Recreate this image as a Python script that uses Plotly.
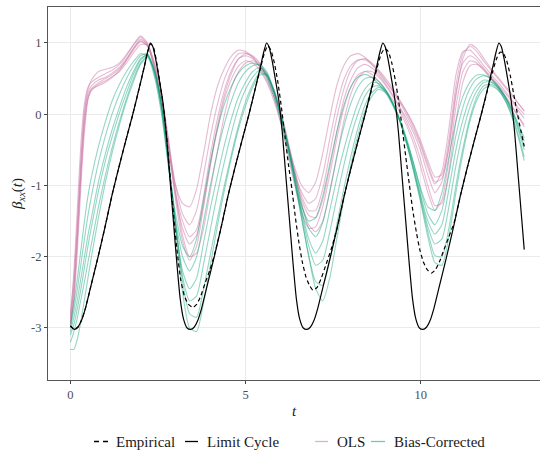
import plotly.graph_objects as go

# ---------------- data ----------------
TIME = [0, 0.1, 0.2, 0.3, 0.4, 0.5, 0.6,
        0.8, 1.0, 1.2, 1.4, 1.6, 1.8, 2.0, 2.2, 2.4, 2.6,
        2.8, 3.0, 3.2, 3.4, 3.6, 3.8, 4.0, 4.2, 4.4, 4.6,
        4.8, 5.0, 5.2, 5.4, 5.6, 5.8, 6.0, 6.2, 6.4, 6.6,
        6.8, 7.0, 7.2, 7.4, 7.6, 7.8, 8.0, 8.2, 8.4, 8.6,
        8.8, 9.0, 9.2, 9.4, 9.6, 9.8, 10.0, 10.2, 10.4, 10.6,
        10.8, 11.0, 11.2, 11.4, 11.6, 11.8, 12.0, 12.2, 12.4, 12.6,
        12.8, 12.95]

OLS_1 = [-2.9, -2.4, -1.6, -0.7, 0.0, 0.3, 0.4,
         0.48, 0.52, 0.58, 0.66, 0.78, 0.92, 1.03, 0.95, 0.65, 0.2,
         -0.45, -1.1, -1.5, -1.72, -1.62, -1.15, -0.55, -0.05, 0.35, 0.62,
         0.78, 0.82, 0.78, 0.68, 0.52, 0.28, -0.05, -0.45, -0.85, -1.2,
         -1.42, -1.45, -1.2, -0.75, -0.25, 0.2, 0.48, 0.65, 0.7, 0.65,
         0.55, 0.42, 0.27, 0.1, -0.07, -0.27, -0.52, -0.85, -1.1, -0.95,
         -0.45, 0.3, 0.72, 0.82, 0.76, 0.64, 0.53, 0.42, 0.3, 0.18,
         0.04, -0.06]
OLS_2 = [-2.85, -2.2, -1.3, -0.4, 0.15, 0.38, 0.45,
         0.52, 0.57, 0.62, 0.7, 0.82, 0.97, 1.08, 0.98, 0.62, 0.12,
         -0.5, -1.0, -1.25, -1.3, -1.05, -0.55, 0.0, 0.4, 0.65, 0.82,
         0.9, 0.88, 0.8, 0.66, 0.48, 0.25, -0.05, -0.4, -0.75, -1.0,
         -1.1, -0.95, -0.55, -0.05, 0.4, 0.68, 0.82, 0.85, 0.8, 0.7,
         0.58, 0.45, 0.32, 0.18, 0.03, -0.15, -0.38, -0.65, -0.88, -0.85,
         -0.35, 0.4, 0.85, 0.95, 0.88, 0.74, 0.62, 0.5, 0.38, 0.26,
         0.14, 0.05]
OLS_3 = [-2.95, -2.6, -1.9, -1.0, -0.25, 0.2, 0.33,
         0.42, 0.47, 0.53, 0.6, 0.72, 0.86, 0.98, 0.97, 0.72, 0.3,
         -0.35, -1.1, -1.7, -2.0, -1.95, -1.6, -1.05, -0.5, 0.0, 0.38,
         0.6, 0.72, 0.75, 0.68, 0.55, 0.35, 0.05, -0.35, -0.8, -1.25,
         -1.55, -1.65, -1.5, -1.1, -0.6, -0.1, 0.28, 0.5, 0.6, 0.6,
         0.52, 0.4, 0.25, 0.08, -0.12, -0.35, -0.65, -1.0, -1.28, -1.25,
         -0.8, -0.1, 0.45, 0.68, 0.7, 0.62, 0.5, 0.38, 0.25, 0.1,
         -0.05, -0.18]
OLS_4 = [-2.8, -2.3, -1.5, -0.6, 0.05, 0.35, 0.48,
         0.6, 0.63, 0.66, 0.72, 0.84, 0.98, 1.1, 1.0, 0.68, 0.22,
         -0.4, -1.0, -1.4, -1.55, -1.35, -0.85, -0.3, 0.15, 0.5, 0.72,
         0.85, 0.86, 0.8, 0.7, 0.55, 0.3, -0.02, -0.42, -0.82, -1.1,
         -1.25, -1.18, -0.85, -0.35, 0.12, 0.48, 0.68, 0.76, 0.76, 0.7,
         0.6, 0.47, 0.33, 0.16, -0.02, -0.22, -0.45, -0.75, -0.98, -0.8,
         -0.2, 0.55, 0.88, 0.9, 0.8, 0.68, 0.56, 0.45, 0.33, 0.2,
         0.08, 0.0]
OLS_5 = [-3.0, -2.55, -1.75, -0.85, -0.15, 0.22, 0.36,
         0.44, 0.5, 0.56, 0.64, 0.76, 0.9, 1.02, 0.96, 0.7, 0.25,
         -0.42, -1.2, -1.78, -2.05, -1.85, -1.3, -0.7, -0.2, 0.22, 0.5,
         0.68, 0.75, 0.72, 0.62, 0.45, 0.2, -0.12, -0.55, -1.0, -1.38,
         -1.6, -1.58, -1.3, -0.85, -0.35, 0.08, 0.38, 0.55, 0.6, 0.56,
         0.46, 0.34, 0.2, 0.03, -0.17, -0.42, -0.75, -1.1, -1.35, -1.2,
         -0.65, 0.1, 0.6, 0.75, 0.72, 0.62, 0.5, 0.38, 0.26, 0.12,
         -0.04, -0.15]
OLS_6 = [-2.92, -2.45, -1.7, -0.8, -0.1, 0.25, 0.35,
         0.4, 0.45, 0.52, 0.62, 0.76, 0.93, 1.05, 0.98, 0.66, 0.18,
         -0.5, -1.15, -1.6, -1.82, -1.7, -1.25, -0.68, -0.15, 0.28, 0.58,
         0.78, 0.85, 0.82, 0.72, 0.56, 0.32, 0.0, -0.4, -0.8, -1.15,
         -1.35, -1.35, -1.05, -0.55, -0.05, 0.35, 0.62, 0.75, 0.78, 0.72,
         0.62, 0.5, 0.36, 0.2, 0.02, -0.18, -0.42, -0.7, -0.95, -0.9,
         -0.48, 0.25, 0.78, 0.98, 0.92, 0.78, 0.64, 0.52, 0.4, 0.28,
         0.14, 0.04]

BC_1 = [-3.05, -2.85, -2.6, -2.3, -2.0, -1.7, -1.45,
        -0.95, -0.55, -0.2, 0.1, 0.38, 0.6, 0.78, 0.83, 0.58, 0.1,
        -0.7, -1.55, -2.2, -2.45, -2.3, -1.8, -1.3, -0.85, -0.42, -0.05,
        0.25, 0.45, 0.6, 0.66, 0.58, 0.32, -0.02, -0.42, -0.88, -1.35,
        -1.75, -1.95, -1.78, -1.35, -0.9, -0.5, -0.15, 0.15, 0.35, 0.45,
        0.43, 0.33, 0.15, -0.08, -0.38, -0.75, -1.15, -1.5, -1.68, -1.55,
        -1.05, -0.5, -0.08, 0.22, 0.4, 0.48, 0.46, 0.38, 0.24, 0.04,
        -0.22, -0.45]
BC_2 = [-2.95, -2.65, -2.3, -1.9, -1.5, -1.15, -0.88,
        -0.45, -0.1, 0.2, 0.42, 0.6, 0.74, 0.85, 0.82, 0.52, 0.0,
        -0.75, -1.4, -1.85, -2.0, -1.75, -1.2, -0.65, -0.2, 0.15, 0.4,
        0.58, 0.68, 0.72, 0.68, 0.52, 0.25, -0.1, -0.5, -0.95, -1.3,
        -1.5, -1.45, -1.15, -0.7, -0.25, 0.12, 0.38, 0.52, 0.56, 0.52,
        0.42, 0.3, 0.12, -0.1, -0.38, -0.7, -1.05, -1.3, -1.35, -1.1,
        -0.6, -0.1, 0.25, 0.45, 0.55, 0.55, 0.5, 0.4, 0.25, 0.06,
        -0.16, -0.33]
BC_3 = [-3.2, -3.05, -2.85, -2.6, -2.35, -2.08, -1.82,
        -1.3, -0.85, -0.45, -0.1, 0.22, 0.5, 0.72, 0.82, 0.62, 0.15,
        -0.62, -1.55, -2.35, -2.8, -2.85, -2.45, -1.95, -1.45, -0.98, -0.55,
        -0.15, 0.18, 0.42, 0.58, 0.55, 0.32, -0.02, -0.45, -0.95, -1.48,
        -1.98, -2.35, -2.4, -2.05, -1.55, -1.05, -0.6, -0.2, 0.12, 0.3,
        0.38, 0.32, 0.15, -0.1, -0.42, -0.8, -1.22, -1.65, -1.98, -2.0,
        -1.6, -1.0, -0.48, -0.05, 0.25, 0.4, 0.42, 0.35, 0.2, -0.02,
        -0.32, -0.6]
BC_4 = [-3.0, -2.75, -2.45, -2.1, -1.75, -1.42, -1.15,
        -0.68, -0.3, 0.02, 0.28, 0.5, 0.68, 0.82, 0.85, 0.56, 0.05,
        -0.72, -1.48, -2.0, -2.2, -2.0, -1.5, -0.98, -0.52, -0.12, 0.2,
        0.45, 0.6, 0.68, 0.7, 0.6, 0.35, 0.0, -0.4, -0.85, -1.28,
        -1.6, -1.72, -1.52, -1.08, -0.6, -0.18, 0.15, 0.38, 0.5, 0.52,
        0.46, 0.34, 0.16, -0.07, -0.35, -0.7, -1.08, -1.4, -1.55, -1.35,
        -0.85, -0.3, 0.1, 0.36, 0.5, 0.54, 0.5, 0.4, 0.26, 0.06,
        -0.18, -0.38]
BC_5 = [-3.3, -3.3, -3.15, -2.9, -2.6, -2.3, -2.0,
        -1.45, -0.95, -0.52, -0.15, 0.18, 0.46, 0.7, 0.8, 0.6, 0.12,
        -0.68, -1.62, -2.5, -3.0, -3.05, -2.65, -2.1, -1.55, -1.05, -0.6,
        -0.2, 0.12, 0.38, 0.55, 0.55, 0.35, 0.02, -0.42, -0.92, -1.45,
        -2.0, -2.45, -2.62, -2.3, -1.75, -1.2, -0.72, -0.3, 0.04, 0.25,
        0.35, 0.3, 0.14, -0.1, -0.43, -0.82, -1.25, -1.72, -2.08, -2.12,
        -1.72, -1.1, -0.55, -0.1, 0.2, 0.36, 0.4, 0.34, 0.2, -0.04,
        -0.36, -0.65]
BC_6 = [-3.1, -2.95, -2.72, -2.45, -2.15, -1.85, -1.58,
        -1.08, -0.65, -0.3, 0.02, 0.3, 0.56, 0.76, 0.84, 0.6, 0.12,
        -0.66, -1.55, -2.28, -2.62, -2.55, -2.1, -1.6, -1.1, -0.65, -0.25,
        0.1, 0.35, 0.52, 0.62, 0.56, 0.33, 0.0, -0.42, -0.9, -1.4,
        -1.85, -2.12, -2.05, -1.65, -1.18, -0.72, -0.32, 0.0, 0.25, 0.38,
        0.4, 0.32, 0.15, -0.09, -0.4, -0.78, -1.18, -1.58, -1.82, -1.75,
        -1.3, -0.72, -0.25, 0.1, 0.33, 0.45, 0.45, 0.37, 0.22, 0.02,
        -0.25, -0.5]

LC_T = [0.0, 0.11, 0.21, 0.31, 0.43, 0.58, 0.78, 0.98, 1.18, 1.38,
        1.58, 1.78, 1.98, 2.10, 2.20, 2.28, 2.35, 2.43, 2.53, 2.63,
        2.73, 2.83, 2.93, 3.03, 3.13, 3.23, 3.33, 3.43,
        3.53, 3.63, 3.745, 3.895, 4.095, 4.295, 4.495, 4.695, 4.895, 5.095,
        5.295, 5.415, 5.515, 5.595, 5.665, 5.745, 5.845, 5.945, 6.045, 6.145,
        6.245, 6.345, 6.445, 6.545, 6.645, 6.745,
        6.845, 6.945, 7.06, 7.21, 7.41, 7.61, 7.81, 8.01, 8.21, 8.41,
        8.61, 8.73, 8.83, 8.91, 8.98, 9.06, 9.16, 9.26, 9.36, 9.46,
        9.56, 9.66, 9.76, 9.86, 9.96, 10.06,
        10.16, 10.26, 10.375, 10.525, 10.725, 10.925, 11.125, 11.325, 11.525, 11.725,
        11.925, 12.045, 12.145, 12.225, 12.295, 12.375, 12.475, 12.575, 12.675, 12.775,
        12.875, 12.95]
LC_Y = [-2.97, -3.02, -2.99, -2.9, -2.72, -2.42, -2.02, -1.6, -1.15, -0.75,
        -0.37, 0.0, 0.4, 0.65, 0.87, 1.0, 0.95, 0.78, 0.5, 0.2,
        -0.25, -0.85, -1.45, -2.05, -2.58, -2.88, -3.0, -3.02,
        -2.99, -2.9, -2.72, -2.42, -2.02, -1.6, -1.15, -0.75, -0.37, 0.0,
        0.4, 0.65, 0.87, 1.0, 0.95, 0.78, 0.5, 0.2, -0.25, -0.85,
        -1.45, -2.05, -2.58, -2.88, -3.0, -3.02,
        -2.99, -2.9, -2.72, -2.42, -2.02, -1.6, -1.15, -0.75, -0.37, 0.0,
        0.4, 0.65, 0.87, 1.0, 0.95, 0.78, 0.5, 0.2, -0.25, -0.85,
        -1.45, -2.05, -2.58, -2.88, -3.0, -3.02,
        -2.99, -2.9, -2.72, -2.42, -2.02, -1.6, -1.15, -0.75, -0.37, 0.0,
        0.4, 0.65, 0.87, 1.0, 0.95, 0.78, 0.5, 0.2, -0.25, -0.85,
        -1.45, -1.9]

EMP_T = [0.0, 0.11, 0.21, 0.31, 0.43, 0.58, 0.78, 0.98, 1.18, 1.38,
         1.58, 1.78, 1.98, 2.10, 2.20, 2.29,
         2.37, 2.45, 2.55, 2.65, 2.75, 2.85, 2.95, 3.05, 3.15, 3.25,
         3.37, 3.5, 3.6, 3.72, 3.85, 3.97,
         4.095, 4.295, 4.495, 4.695, 4.895, 5.095, 5.295, 5.415, 5.53, 5.63,
         5.72, 5.82, 5.92, 6.02, 6.12, 6.22, 6.32, 6.42, 6.52, 6.62,
         6.72, 6.82, 6.92, 7.04, 7.16, 7.3, 7.45,
         7.61, 7.81, 8.01, 8.21, 8.41, 8.61, 8.75, 8.87, 8.97,
         9.07, 9.17, 9.27, 9.37, 9.47, 9.57, 9.67, 9.77, 9.87, 9.97,
         10.07, 10.18, 10.3, 10.42, 10.54, 10.66, 10.8, 10.95,
         11.125, 11.325, 11.525, 11.725, 11.925, 12.05, 12.16, 12.26, 12.35, 12.45,
         12.55, 12.65, 12.75, 12.85, 12.95]
EMP_Y = [-2.97, -3.02, -2.99, -2.9, -2.72, -2.42, -2.02, -1.6, -1.15, -0.75,
         -0.37, 0.0, 0.4, 0.65, 0.87, 0.99,
         0.94, 0.76, 0.45, 0.12, -0.33, -0.9, -1.45, -1.95, -2.33, -2.55,
         -2.67, -2.71, -2.67, -2.55, -2.36, -2.2,
         -2.0, -1.6, -1.15, -0.75, -0.37, 0.0, 0.4, 0.63, 0.85, 0.96,
         0.9, 0.72, 0.45, 0.1, -0.3, -0.7, -1.05, -1.45, -1.8, -2.08,
         -2.28, -2.4, -2.47, -2.43, -2.3, -2.1, -1.88,
         -1.6, -1.15, -0.75, -0.37, 0.0, 0.38, 0.65, 0.85, 0.92,
         0.88, 0.72, 0.48, 0.17, -0.2, -0.6, -0.98, -1.35, -1.65, -1.9,
         -2.07, -2.18, -2.23, -2.18, -2.06, -1.9, -1.72, -1.52,
         -1.15, -0.75, -0.37, 0.0, 0.38, 0.6, 0.78, 0.87, 0.86, 0.75,
         0.55, 0.28, 0.02, -0.22, -0.45]

X_TICKS = [0, 5, 10]
Y_TICKS = [-3, -2, -1, 0, 1]
Y_TICK_TEXT = ["-3", "-2", "-1", "0", "1"]

OLS_CURVES = [OLS_1, OLS_2, OLS_3, OLS_4, OLS_5, OLS_6]
BC_CURVES = [BC_1, BC_2, BC_3, BC_4, BC_5, BC_6]

# ---------------- styles ----------------
FONT = "Liberation Serif"
OLS_COL = "rgba(204,121,167,0.5)"
BC_COL = "rgba(0,158,115,0.42)"

fig = go.Figure()
for ys in OLS_CURVES:
    fig.add_trace(go.Scatter(x=TIME, y=ys, mode="lines", name="OLS",
                             line=dict(color=OLS_COL, width=1.1, shape="spline", smoothing=0.6),
                             showlegend=False, hoverinfo="skip"))
for ys in BC_CURVES:
    fig.add_trace(go.Scatter(x=TIME, y=ys, mode="lines", name="Bias-Corrected",
                             line=dict(color=BC_COL, width=1.1, shape="spline", smoothing=0.6),
                             showlegend=False, hoverinfo="skip"))
fig.add_trace(go.Scatter(x=EMP_T, y=EMP_Y, mode="lines", name="Empirical",
                         line=dict(color="black", width=1.2, dash="4px,3px", shape="spline", smoothing=0.5),
                         showlegend=False))
fig.add_trace(go.Scatter(x=LC_T, y=LC_Y, mode="lines", name="Limit Cycle",
                         line=dict(color="black", width=1.2, shape="spline", smoothing=0.5),
                         showlegend=False))

# ---------------- manual legend (bottom, horizontal) ----------------
L, R, T, B = 48, 540, 7, 380
def px(x):
    return (x - L) / (R - L)
def py(y):
    return (B - y) / (B - T)

LEG_Y = 441.5
legend_items = [
    ("Empirical", 94, 110, 114, "black", "5px,4px"),
    ("Limit Cycle", 185, 198, 205, "black", "solid"),
    ("OLS", 315, 328, 335, "rgba(204,121,167,0.6)", "solid"),
    ("Bias-Corrected", 371, 385, 392, "rgba(0,158,115,0.55)", "solid"),
]
shapes = []
annotations = []
for label, x0, x1, xt, col, dash in legend_items:
    shapes.append(dict(type="line", xref="paper", yref="paper",
                       x0=px(x0), x1=px(x1), y0=py(LEG_Y), y1=py(LEG_Y),
                       line=dict(color=col, width=1.3, dash=dash)))
    annotations.append(dict(text=label, xref="paper", yref="paper", x=px(xt), y=py(LEG_Y),
                            xanchor="left", yanchor="middle", showarrow=False,
                            font=dict(family=FONT, size=15, color="#1a1a1a")))

fig.update_layout(
    width=540, height=455,
    margin=dict(l=L, r=0, t=T, b=455 - B),
    paper_bgcolor="white", plot_bgcolor="white",
    font=dict(family=FONT, color="#1a1a1a", size=12),
    showlegend=False,
    shapes=shapes, annotations=annotations,
)
fig.update_xaxes(range=[-0.64, 13.4], tickvals=X_TICKS, ticks="outside", ticklen=3,
                 tickcolor="#444444", tickwidth=1,
                 tickfont=dict(family=FONT, size=12.5, color="#4D4D4D"),
                 showgrid=True, gridcolor="#EBEBEB", gridwidth=0.8, zeroline=False,
                 showline=True, mirror=True, linecolor="#555555", linewidth=1,
                 title=dict(text="<i>t</i>", font=dict(family=FONT, size=15, color="#1a1a1a"), standoff=4))
fig.update_yaxes(range=[-3.73, 1.505], tickvals=Y_TICKS, ticktext=Y_TICK_TEXT,
                 ticks="outside", ticklen=3, tickcolor="#444444", tickwidth=1,
                 tickfont=dict(family=FONT, size=12.5, color="#4D4D4D"),
                 showgrid=True, gridcolor="#EBEBEB", gridwidth=0.8, zeroline=False,
                 showline=True, mirror=False, linecolor="#555555", linewidth=1,
                 title=dict(text="<i>β</i><sub><i>xx</i></sub>(<i>t</i>)",
                            font=dict(family=FONT, size=15, color="#1a1a1a"), standoff=4))

fig.write_html("out.html")
